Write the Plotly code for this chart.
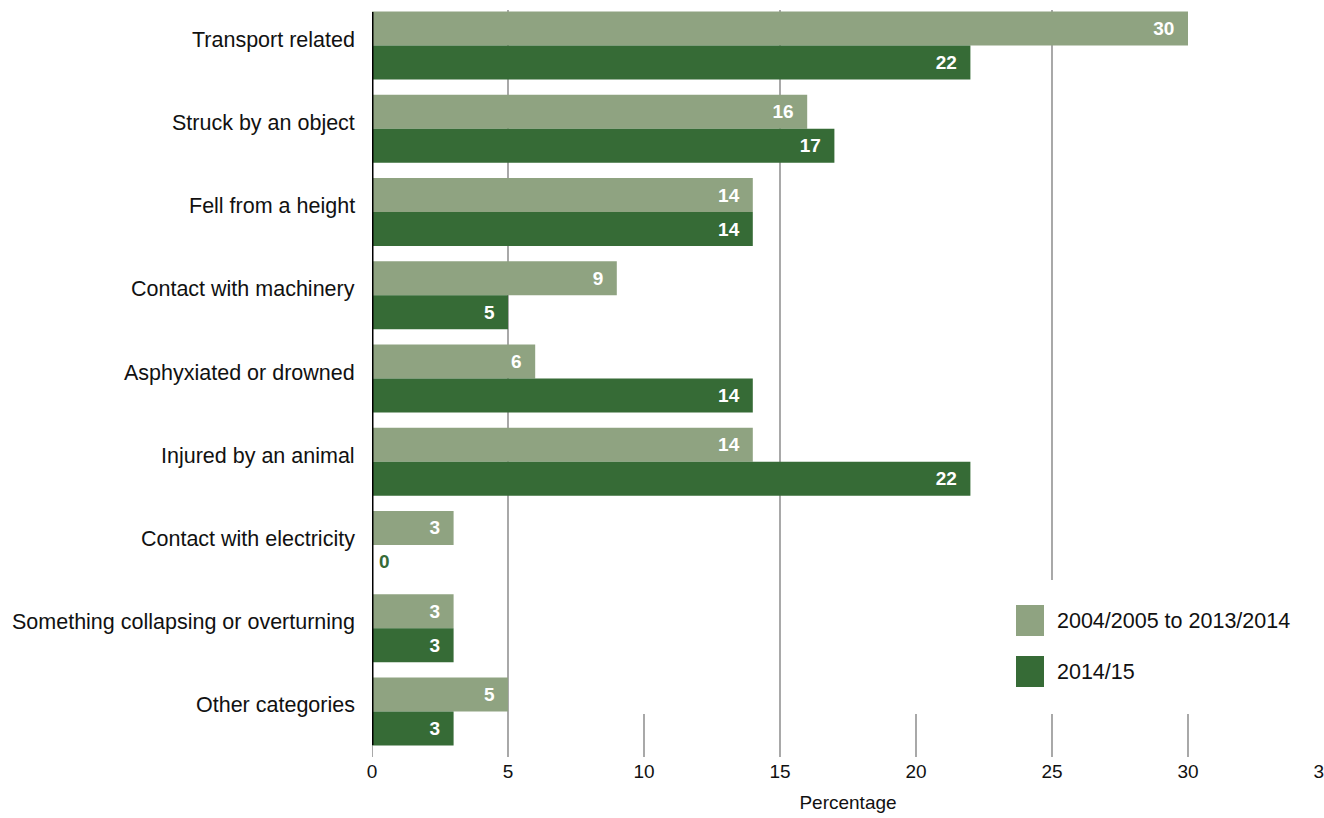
import plotly.graph_objects as go

categories = [
    "Transport related",
    "Struck by an object",
    "Fell from a height",
    "Contact with machinery",
    "Asphyxiated or drowned",
    "Injured by an animal",
    "Contact with electricity",
    "Something collapsing or overturning",
    "Other categories",
]
series_names = ["2004/2005 to 2013/2014", "2014/15"]
avg_2004_2014 = [30, 16, 14, 9, 6, 14, 3, 3, 5]
year_2014_15 = [22, 17, 14, 5, 14, 22, 0, 3, 3]
x_ticks = [0, 5, 10, 15, 20, 25, 30, 35]

LIGHT = "#8FA381"
DARK = "#366B36"
GRID = "#7a7a7a"
LABEL_FONT = "Liberation Sans, Arial, Helvetica, sans-serif"

fig = go.Figure()
for name, vals, col in [(series_names[0], avg_2004_2014, LIGHT),
                        (series_names[1], year_2014_15, DARK)]:
    fig.add_trace(go.Bar(
        y=categories, x=vals, name=name, orientation="h",
        marker=dict(color=col, line=dict(width=0)),
        texttemplate="%{x}\u00a0\u00a0",
        textposition="auto",
        insidetextanchor="end",
        insidetextfont=dict(color="white", size=19, family=LABEL_FONT, weight="bold"),
        outsidetextfont=dict(color=DARK, size=19, family=LABEL_FONT, weight="bold"),
        cliponaxis=False,
        showlegend=False,
    ))

# plot-area pixel helpers (plot area: y 4..753 px, x 372..1324 px)
TOP, BOT = 4, 753
H = BOT - TOP
def py(ypx):
    return (BOT - ypx) / H
def px(xpx):
    return (xpx - 372) / 952

shapes = []
annotations = []
# vertical gridlines (partially hidden as in the original)
grid_spans = {
    0: [(745, 757)],
    5: [(10, 757)],
    10: [(714, 757)],
    15: [(10, 757)],
    20: [(714, 757)],
    25: [(10, 580), (714, 757)],
    30: [(714, 757)],
}
for xv, spans in grid_spans.items():
    for a, b in spans:
        shapes.append(dict(type="line", xref="x", yref="paper", x0=xv, x1=xv,
                           y0=py(a), y1=py(b), line=dict(color=GRID, width=1.3),
                           layer="below"))
# black category axis line
shapes.append(dict(type="line", xref="x", yref="paper", x0=0, x1=0,
                   y0=py(12), y1=py(745), line=dict(color="black", width=3),
                   layer="above"))

# category labels (slightly above the group centre, as in the original)
for c in categories:
    annotations.append(dict(xref="paper", yref="y", x=0, y=c, text=c, showarrow=False,
                            xanchor="right", yanchor="middle", xshift=-15, yshift=6,
                            font=dict(family=LABEL_FONT, size=21.5, color="#111")))

# zero-value labels (plotly does not draw text for zero-length bars)
for c, v in zip(categories, year_2014_15):
    if v == 0:
        annotations.append(dict(xref="x", yref="y", x=v, y=c, text="<b>%d</b>" % v,
                                showarrow=False, xanchor="left", yanchor="middle",
                                xshift=5, yshift=-17,
                                font=dict(family=LABEL_FONT, size=19, color=DARK)))
for c, v in zip(categories, avg_2004_2014):
    if v == 0:
        annotations.append(dict(xref="x", yref="y", x=v, y=c, text="<b>%d</b>" % v,
                                showarrow=False, xanchor="left", yanchor="middle",
                                xshift=5, yshift=17,
                                font=dict(family=LABEL_FONT, size=19, color=LIGHT)))

# manual legend
for (name, col, y0, y1) in [(series_names[0], LIGHT, 605, 636),
                            (series_names[1], DARK, 656, 687)]:
    shapes.append(dict(type="rect", xref="paper", yref="paper",
                       x0=px(1016), x1=px(1044), y0=py(y1), y1=py(y0),
                       fillcolor=col, line=dict(width=0)))
    annotations.append(dict(xref="paper", yref="paper", x=px(1055), y=py((y0 + y1) / 2),
                            text=name, showarrow=False, xanchor="left", yanchor="middle",
                            font=dict(family=LABEL_FONT, size=21.5, color="#111")))

fig.update_layout(
    width=1324, height=818,
    margin=dict(l=372, r=0, t=TOP, b=818 - BOT, pad=0, autoexpand=False),
    paper_bgcolor="white", plot_bgcolor="white",
    barmode="group", bargap=0.183, bargroupgap=0,
    shapes=shapes, annotations=annotations,
    showlegend=False,
    xaxis=dict(range=[0, 35], tickvals=x_ticks, showgrid=False, zeroline=False,
               showline=False, ticks="", automargin=False,
               tickfont=dict(family=LABEL_FONT, size=19, color="#111"),
               ticklabelstandoff=5, ticklabeloverflow="allow",
               title=dict(text="Percentage", font=dict(family=LABEL_FONT, size=19, color="#111"),
                          standoff=14)),
    yaxis=dict(categoryorder="array", categoryarray=categories, autorange="reversed",
               showgrid=False, zeroline=False, showline=False, ticks="",
               showticklabels=False, automargin=False),
)

fig.write_html("out.html")
